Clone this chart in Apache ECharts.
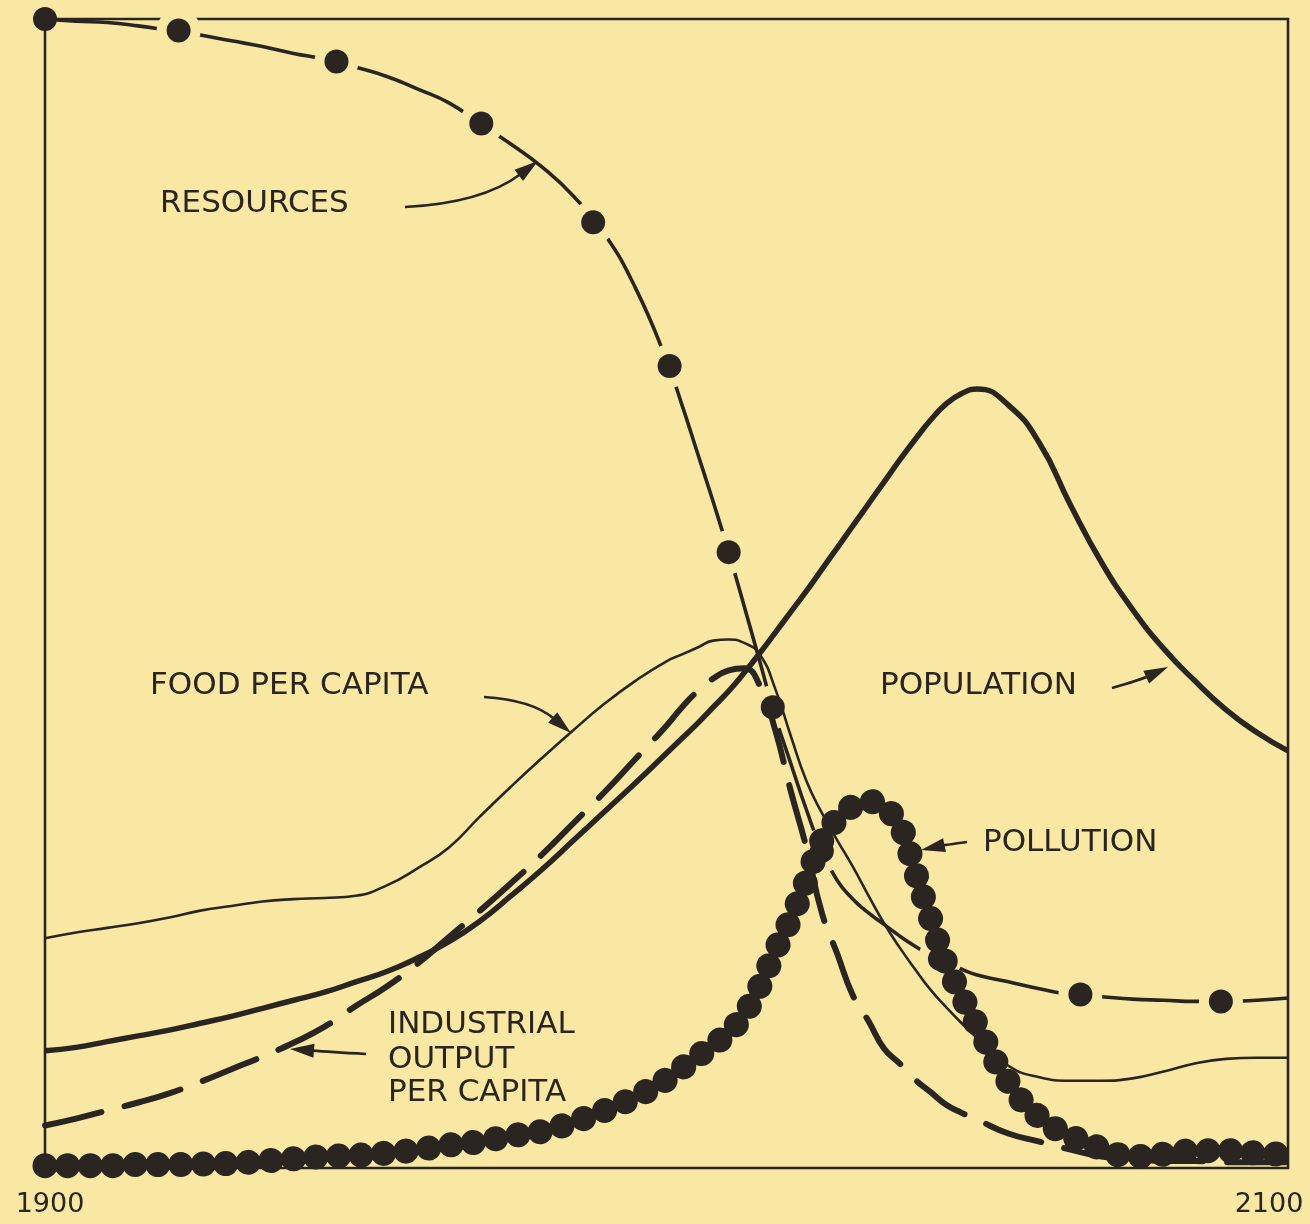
<!DOCTYPE html>
<html><head><meta charset="utf-8">
<script src="https://cdn.jsdelivr.net/npm/echarts@6/dist/echarts.min.js"></script>
<style>html,body{margin:0;padding:0;background:#f8e8a3;}#c{width:1310px;height:1224px;}</style>
</head><body><div id="c"></div>
<script>
// ---- data (values on a 0-100 relative scale) ----
const years = [1900,1905,1910,1915,1920,1925,1930,1935,1940,1945,1950,1955,1960,1965,1970,1975,1980,1985,1990,1995,2000,
  2002.5,2005,2007.5,2010,2012.5,2015,2017.5,2020,2022.5,2025,2027.5,2030,2032.5,2035,2037.5,2040,2042.5,2045,2047.5,2050,
  2055,2060,2065,2070,2075,2080,2085,2090,2095,2100];
const resources = [100.0,99.8,99.7,99.4,99.0,98.6,98.1,97.6,97.0,96.5,95.8,95.0,93.9,92.7,90.9,89.1,87.1,84.6,81.3,76.6,70.3,
  66.4,62.2,58.0,53.6,48.9,44.1,39.3,35.2,31.2,27.6,25.0,23.4,22.2,21.2,20.2,19.3,18.5,17.9,17.3,16.8,
  16.2,15.6,15.1,14.9,14.7,14.6,14.5,14.5,14.6,14.8];
const foodPerCapita = [20.0,20.5,20.9,21.3,21.8,22.4,22.8,23.2,23.4,23.5,23.7,24.6,26.1,27.9,30.6,33.2,35.7,38.1,40.4,42.4,44.1,
  44.7,45.3,45.9,46.0,45.7,44.7,41.7,37.6,33.7,30.9,28.5,26.2,23.7,21.3,19.2,17.3,15.5,14.0,12.6,11.3,
  8.9,7.9,7.6,7.6,7.8,8.4,9.1,9.5,9.6,9.6];
const population = [10.2,10.5,11.0,11.5,12.0,12.6,13.2,13.9,14.6,15.3,16.2,17.1,18.3,19.7,21.5,23.7,26.0,28.5,31.0,33.5,36.1,
  37.4,38.7,40.1,41.5,43.1,44.8,46.6,48.4,50.2,52.1,54.0,55.9,57.8,59.7,61.6,63.4,65.1,66.5,67.4,67.8,
  66.4,63.1,57.7,52.7,48.6,45.2,42.4,39.9,37.9,36.3];
const industrialOutputPerCapita = [3.7,4.3,5.0,5.7,6.5,7.5,8.6,9.7,10.9,12.3,14.1,15.8,17.8,20.1,22.4,24.8,27.3,30.0,32.7,35.6,38.5,
  40.1,41.5,42.6,43.3,43.5,42.0,38.1,32.8,27.9,22.2,18.6,15.0,12.8,10.4,9.1,7.7,6.6,5.5,4.8,4.2,
  3.0,2.3,1.6,1.0,0.8,0.6,0.6,0.5,0.5,0.5];
const pollution = [0.2,0.2,0.2,0.3,0.3,0.35,0.4,0.6,0.8,1.0,1.1,1.3,1.6,2.0,2.3,2.8,3.2,4.0,5.0,6.2,7.7,
  8.7,9.7,10.7,11.8,13.4,15.8,18.9,21.7,25.0,28.5,30.4,31.5,31.9,31.3,29.9,25.8,21.7,17.8,15.0,12.4,
  7.5,4.4,2.8,1.7,1.0,1.2,1.5,1.5,1.3,1.2];
const resourceMarkerYears = [1900,1921.5,1946.9,1970.2,1988.2,2000.5,2010.0,2017.1,2025.0,2044.0,2066.6,2089.2];
const resourceMarkerValues = [100.0,99.0,96.3,90.9,82.3,69.8,53.6,40.1,27.6,18.2,15.1,14.5];
const tickYears = [1900, 2100];

// ---- styling ----
const INK = '#2a2521';
const BG = '#f8e8a3';
const FONT = '"DejaVu Sans", sans-serif';
const pair = (xs, ys) => xs.map((x, i) => [x, ys[i]]);

function arrow(x1, y1, cx, cy, tx, ty) {
  const dx = tx - cx, dy = ty - cy, L = Math.hypot(dx, dy);
  const ux = dx / L, uy = dy / L, len = 24, hw = 7;
  const bx = tx - ux * len, by = ty - uy * len;
  return [
    {type: 'bezierCurve', shape: {x1: x1, y1: y1, cpx1: cx, cpy1: cy, x2: bx + ux * 2, y2: by + uy * 2},
     style: {stroke: INK, lineWidth: 2.6, fill: null}, silent: true},
    {type: 'polygon', shape: {points: [[tx, ty], [bx - uy * hw, by + ux * hw], [bx + uy * hw, by - ux * hw]]},
     style: {fill: INK}, silent: true}
  ];
}
function label(text, x, y) {
  return {type: 'text', x: x, y: y, silent: true,
    style: {text: text, fill: INK, fontSize: 31, fontFamily: FONT, align: 'left', verticalAlign: 'middle'}};
}

const chart = echarts.init(document.getElementById('c'), null, {renderer: 'canvas'});
chart.setOption({
  backgroundColor: BG,
  animation: false,
  grid: {left: 45, right: 22, top: 19, bottom: 56, show: true, borderColor: INK, borderWidth: 2.6, backgroundColor: 'transparent'},
  xAxis: {type: 'value', min: 1900, max: 2100,
    axisLine: {show: false}, axisTick: {show: false}, splitLine: {show: false},
    axisLabel: {customValues: tickYears, margin: 23, color: INK, fontSize: 27, fontFamily: FONT,
      formatter: v => v === 2100 ? '{r|' + v + '}' : '{l|' + v + '}',
      rich: {
        r: {padding: [0, 38, 0, 0], fontSize: 27, fontFamily: FONT, color: INK},
        l: {padding: [0, 0, 0, 10], fontSize: 27, fontFamily: FONT, color: INK}
      }}},
  yAxis: {type: 'value', min: 0, max: 100, show: false},
  series: [
    {name: 'Resources', type: 'line', data: pair(years, resources), smooth: 0.5, showSymbol: false, silent: true,
     lineStyle: {color: INK, width: 3.6}, z: 1},
    {name: 'Resources gaps', type: 'scatter', data: pair(resourceMarkerYears.slice(1), resourceMarkerValues.slice(1)),
     symbol: 'circle', symbolSize: 44, itemStyle: {color: BG, opacity: 1}, silent: true, clip: false, z: 2},
    {name: 'Resources markers', type: 'scatter', data: pair(resourceMarkerYears, resourceMarkerValues),
     symbol: 'circle', symbolSize: 24, itemStyle: {color: INK, opacity: 1}, silent: true, clip: false, z: 3},
    {name: 'Food per capita', type: 'line', data: pair(years, foodPerCapita), smooth: 0.5, showSymbol: false, silent: true,
     lineStyle: {color: INK, width: 2.6}, z: 4},
    {name: 'Population', type: 'line', data: pair(years, population), smooth: 0.5, showSymbol: false, silent: true,
     lineStyle: {color: INK, width: 5.5}, z: 4},
    {name: 'Industrial output per capita', type: 'line', data: pair(years, industrialOutputPerCapita), smooth: 0.5,
     showSymbol: false, silent: true, lineStyle: {color: INK, width: 6, type: [58, 24], cap: 'round'}, z: 4},
    {name: 'Pollution', type: 'line', data: pair(years, pollution), smooth: 0.5, showSymbol: false, silent: true, clip: false,
     lineStyle: {color: INK, width: 25, type: [0.1, 22.5], cap: 'round'}, z: 5}
  ],
  graphic: [
    label('RESOURCES', 160, 204),
    label('FOOD PER CAPITA', 150, 686),
    label('POPULATION', 880, 686),
    label('POLLUTION', 983, 843),
    label('INDUSTRIAL', 388, 1025),
    label('OUTPUT', 388, 1060),
    label('PER CAPITA', 388, 1093),
    ...arrow(405, 207, 482, 203, 538, 161),
    ...arrow(484, 697, 532, 700, 571, 733),
    ...arrow(1112, 688, 1140, 680, 1168, 667),
    ...arrow(967, 842, 945, 845, 921, 850),
    ...arrow(366, 1054, 330, 1052, 290, 1049)
  ]
});
</script></body></html>
